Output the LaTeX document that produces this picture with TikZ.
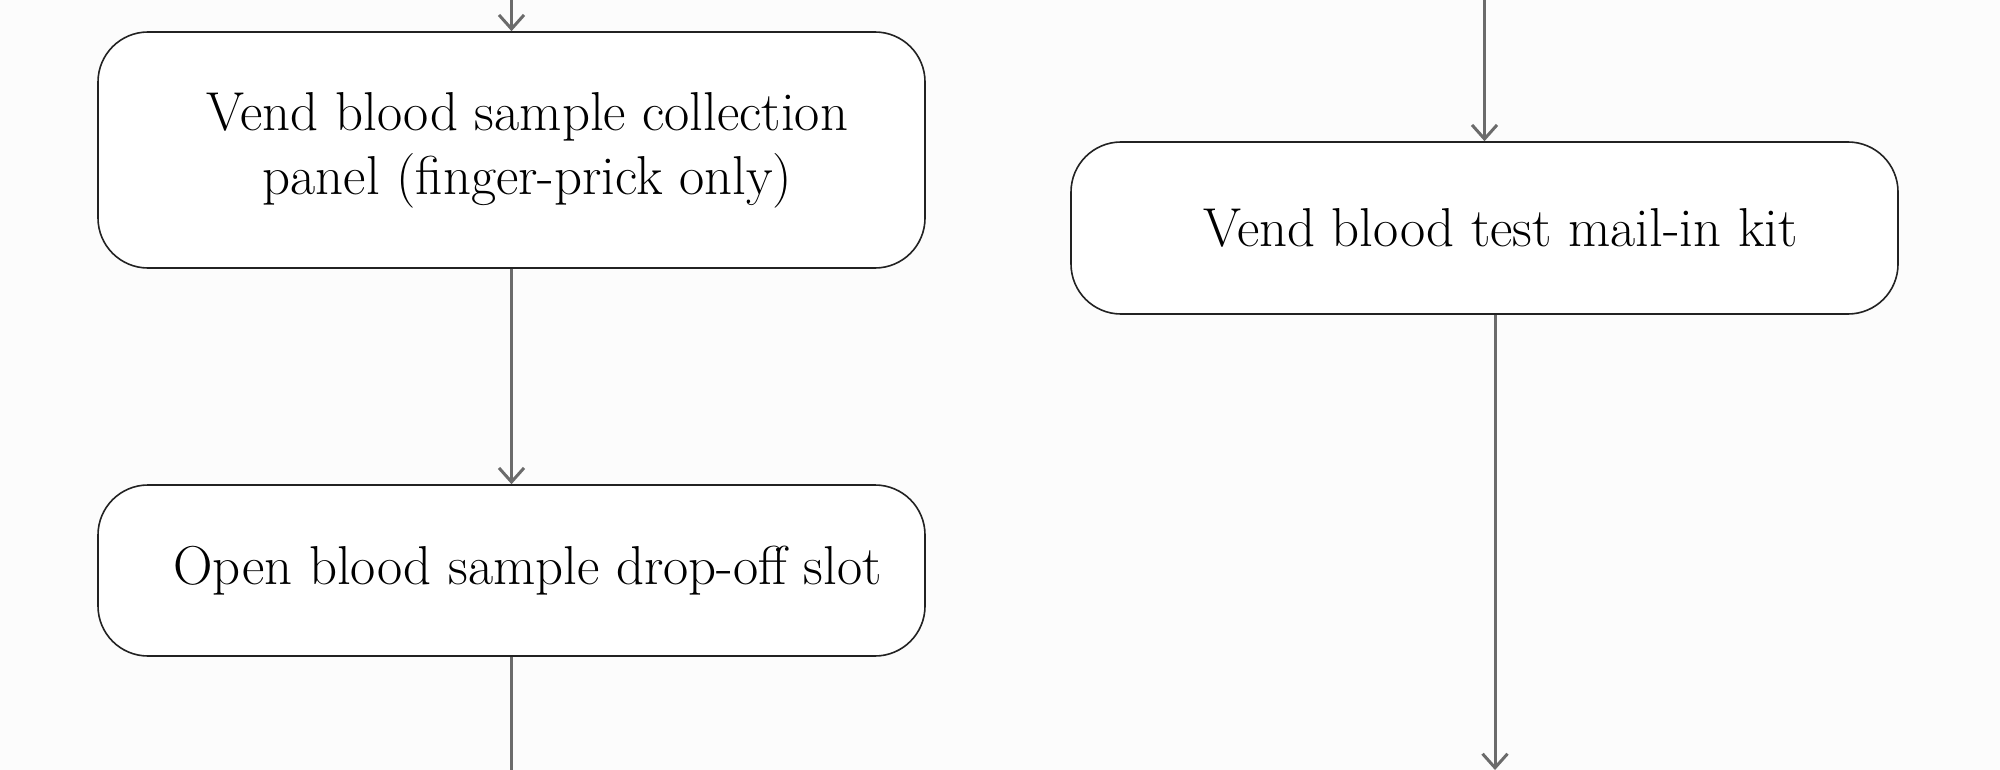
\documentclass[tikz,border=0pt]{standalone}
\usetikzlibrary{arrows.meta}

\definecolor{bgcol}{HTML}{FCFCFC}
\definecolor{edgecol}{HTML}{222222}
\definecolor{arrowcol}{HTML}{6B6B6B}

% text in the boxes sits a little right of centre
\newcommand{\txtpad}{\hspace*{16pt}}

\begin{document}
\begin{tikzpicture}[x=0.5pt, y=-0.5pt,
		stepbox/.style={draw=edgecol, line width=0.8pt, fill=white, rounded corners=25pt,
			minimum width=413.5pt, inner sep=0pt, align=center,
			font=\fontsize{27.4}{32}\selectfont, execute at begin node=\txtpad},
		flow/.style={draw=arrowcol, line width=1.5pt},
		flowarrow/.style={flow, -{Straight Barb[length=7pt, width=12.5pt]}}]
		
		% background
		\fill[bgcol] (0, 0) rectangle (2000, 770);
		\useasboundingbox (0, 0) rectangle (2000, 770);
		
		% left branch
		\coordinate (panelin) at (511.5, 0);
		\node[stepbox, minimum height=118pt] (panel) at (511.5, 150) {Vend blood sample collection\\panel (finger-prick only)};
		\draw[flowarrow] (panelin) -- (panel.north);
		
		\node[stepbox, minimum height=85.5pt] (dropoff) at (511.5, 570.5) {Open blood sample drop-off slot};
		\draw[flowarrow] (panel.south) -- (dropoff.north);
		
		\coordinate (dropoffout) at (511.5, 770);
		\draw[flow] (dropoff.south) -- (dropoffout);
		
		% right branch
		\coordinate (kitin) at (1484.5, 0);
		\node[stepbox, minimum height=86pt] (kit) at (1484.5, 228) {Vend blood test mail-in kit};
		\draw[flowarrow] (kitin) -- (kit.north);
		
		\coordinate (kitout) at (1495, 770);
		\draw[flowarrow] (kitout |- kit.south) -- (kitout);
		
	\end{tikzpicture}
\end{document}
